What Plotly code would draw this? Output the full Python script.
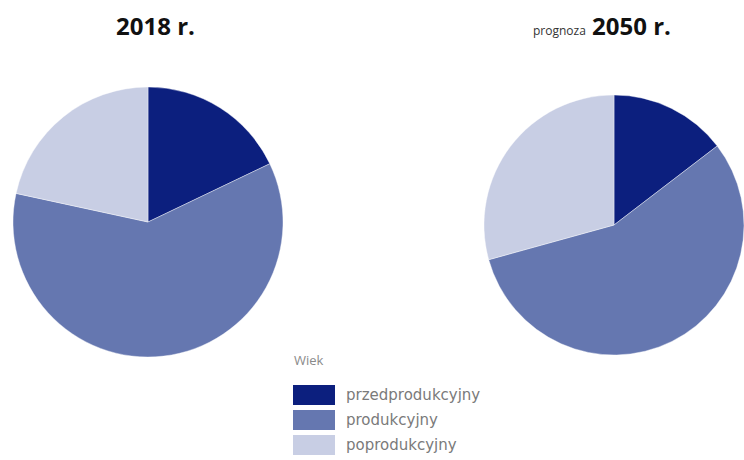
import plotly.graph_objects as go

# Age groups and their shares of the population (%)
age_groups = ["przedprodukcyjny", "produkcyjny", "poprodukcyjny"]
share_2018 = [17.9, 60.5, 21.6]
share_2050 = [14.6, 56.1, 29.3]
group_colors = ["#0c1f7e", "#6577b0", "#c8cee4"]

W, H = 744, 460


def px_x(x):
    return x / W


def px_y(y):
    return 1 - y / H


fig = go.Figure()

fig.add_trace(go.Pie(
    labels=age_groups, values=share_2018, sort=False, direction="clockwise",
    rotation=0, textinfo="none", hoverinfo="label+percent",
    marker=dict(colors=group_colors, line=dict(color="white", width=0.4)),
    domain=dict(x=[px_x(13), px_x(283)], y=[px_y(357), px_y(87)]),
    showlegend=False,
))

fig.add_trace(go.Pie(
    labels=age_groups, values=share_2050, sort=False, direction="clockwise",
    rotation=0, textinfo="none", hoverinfo="label+percent",
    marker=dict(colors=group_colors, line=dict(color="white", width=0.4)),
    domain=dict(x=[px_x(484), 1.0], y=[px_y(357), px_y(93)]),
    showlegend=False,
))

annotations = [
    dict(text="<b>2018 r.</b>", x=px_x(155), y=px_y(25), xref="paper", yref="paper",
         showarrow=False, xanchor="center", yanchor="middle",
         font=dict(family="Open Sans", size=24, color="#111111")),
    dict(text="<span style='font-size:12px;font-weight:normal;color:#333333'>prognoza</span> <b>2050 r.</b>",
         x=px_x(602), y=px_y(25), xref="paper", yref="paper",
         showarrow=False, xanchor="center", yanchor="middle",
         font=dict(family="Open Sans", size=24, color="#111111")),
    dict(text="Wiek", x=px_x(292), y=px_y(360), xref="paper", yref="paper",
         showarrow=False, xanchor="left", yanchor="middle",
         font=dict(family="Open Sans", size=13, color="#8a8a8a")),
]

# Hand-built legend: one swatch and label per age group
shapes = []
for i, (name, col) in enumerate(zip(age_groups, group_colors)):
    yc = 395 + 25 * i
    shapes.append(dict(type="rect", xref="paper", yref="paper",
                       x0=px_x(293), x1=px_x(335), y0=px_y(yc + 10), y1=px_y(yc - 10),
                       fillcolor=col, line=dict(width=0)))
    annotations.append(dict(text=name, x=px_x(344), y=px_y(yc), xref="paper", yref="paper",
                            showarrow=False, xanchor="left", yanchor="middle",
                            font=dict(family="DejaVu Sans", size=15, color="#7a7a7a")))

fig.update_layout(
    width=W, height=H,
    margin=dict(l=0, r=0, t=0, b=0),
    paper_bgcolor="white", plot_bgcolor="white",
    annotations=annotations, shapes=shapes,
)

fig.write_html("out.html")
